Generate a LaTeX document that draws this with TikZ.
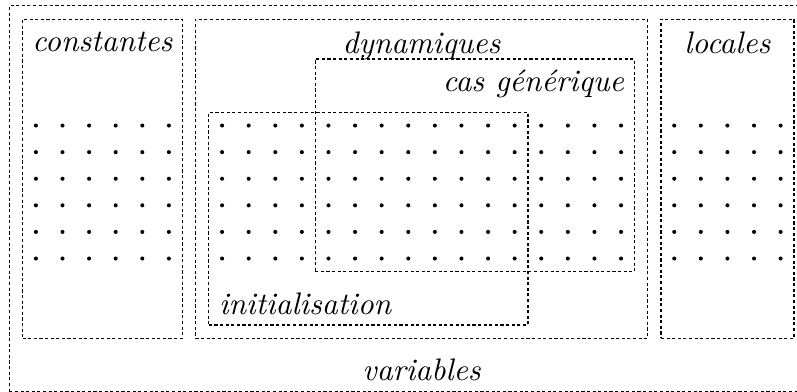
\documentclass[tikz,border=0pt]{standalone}
\usepackage{fontspec}

\tikzset{
  ens/.style={draw,rectangle,inner sep=0pt,line width=0.4pt,dash pattern=on 1pt off 0.8pt},
  nom/.style={font=\itshape}
}

\begin{document}
\begin{tikzpicture}
\useasboundingbox (-0.405,1.416) rectangle (8.585,-3.005);
\node [ens,minimum width=9.3cm,minimum height=4.35cm] (V) at (4.35,-0.825){}; %variables
\node [ens,minimum width=1.8cm,minimum height=3.6cm] (C) at (0.75,-0.6){}; %constantes
\node [ens,minimum width=5.1cm,minimum height=3.6cm] (D) at (4.35,-0.6){}; %dynamiques
\node [ens,minimum width=1.5cm,minimum height=3.6cm] (L) at (7.8,-0.6){}; %locales
\node [ens,minimum width=3.6cm,minimum height=2.4cm] (G) at (4.95,-0.45){}; %cas generique
\node [ens,minimum width=3.6cm,minimum height=2.4cm] (I) at (3.75,-1.05){}; %initialisation

\foreach \x in {0,...,5} \foreach \y in {0,...,5} \fill (0.3*\x,-0.3*\y) circle (0.65pt);
\foreach \x in {7,...,22} \foreach \y in {0,...,5} \fill (0.3*\x,-0.3*\y) circle (0.65pt);
\foreach \x in {24,...,28} \foreach \y in {0,...,5} \fill (0.3*\x,-0.3*\y) circle (0.65pt);

\node [nom,below,yshift=-0.8pt] (tC) at (C.north) {constantes};
\node [nom,below,yshift=-0.8pt] (tD) at (D.north) {dynamiques};
\node [nom,below,yshift=-0.8pt] (tL) at (L.north) {locales};
\node [nom,below left] (tG) at (G.north east) {cas générique};
\node [nom,above right] (tI) at (I.south west) {initialisation};
\node [nom,above] (tV) at (V.south) {variables};

\end{tikzpicture}
\end{document}
